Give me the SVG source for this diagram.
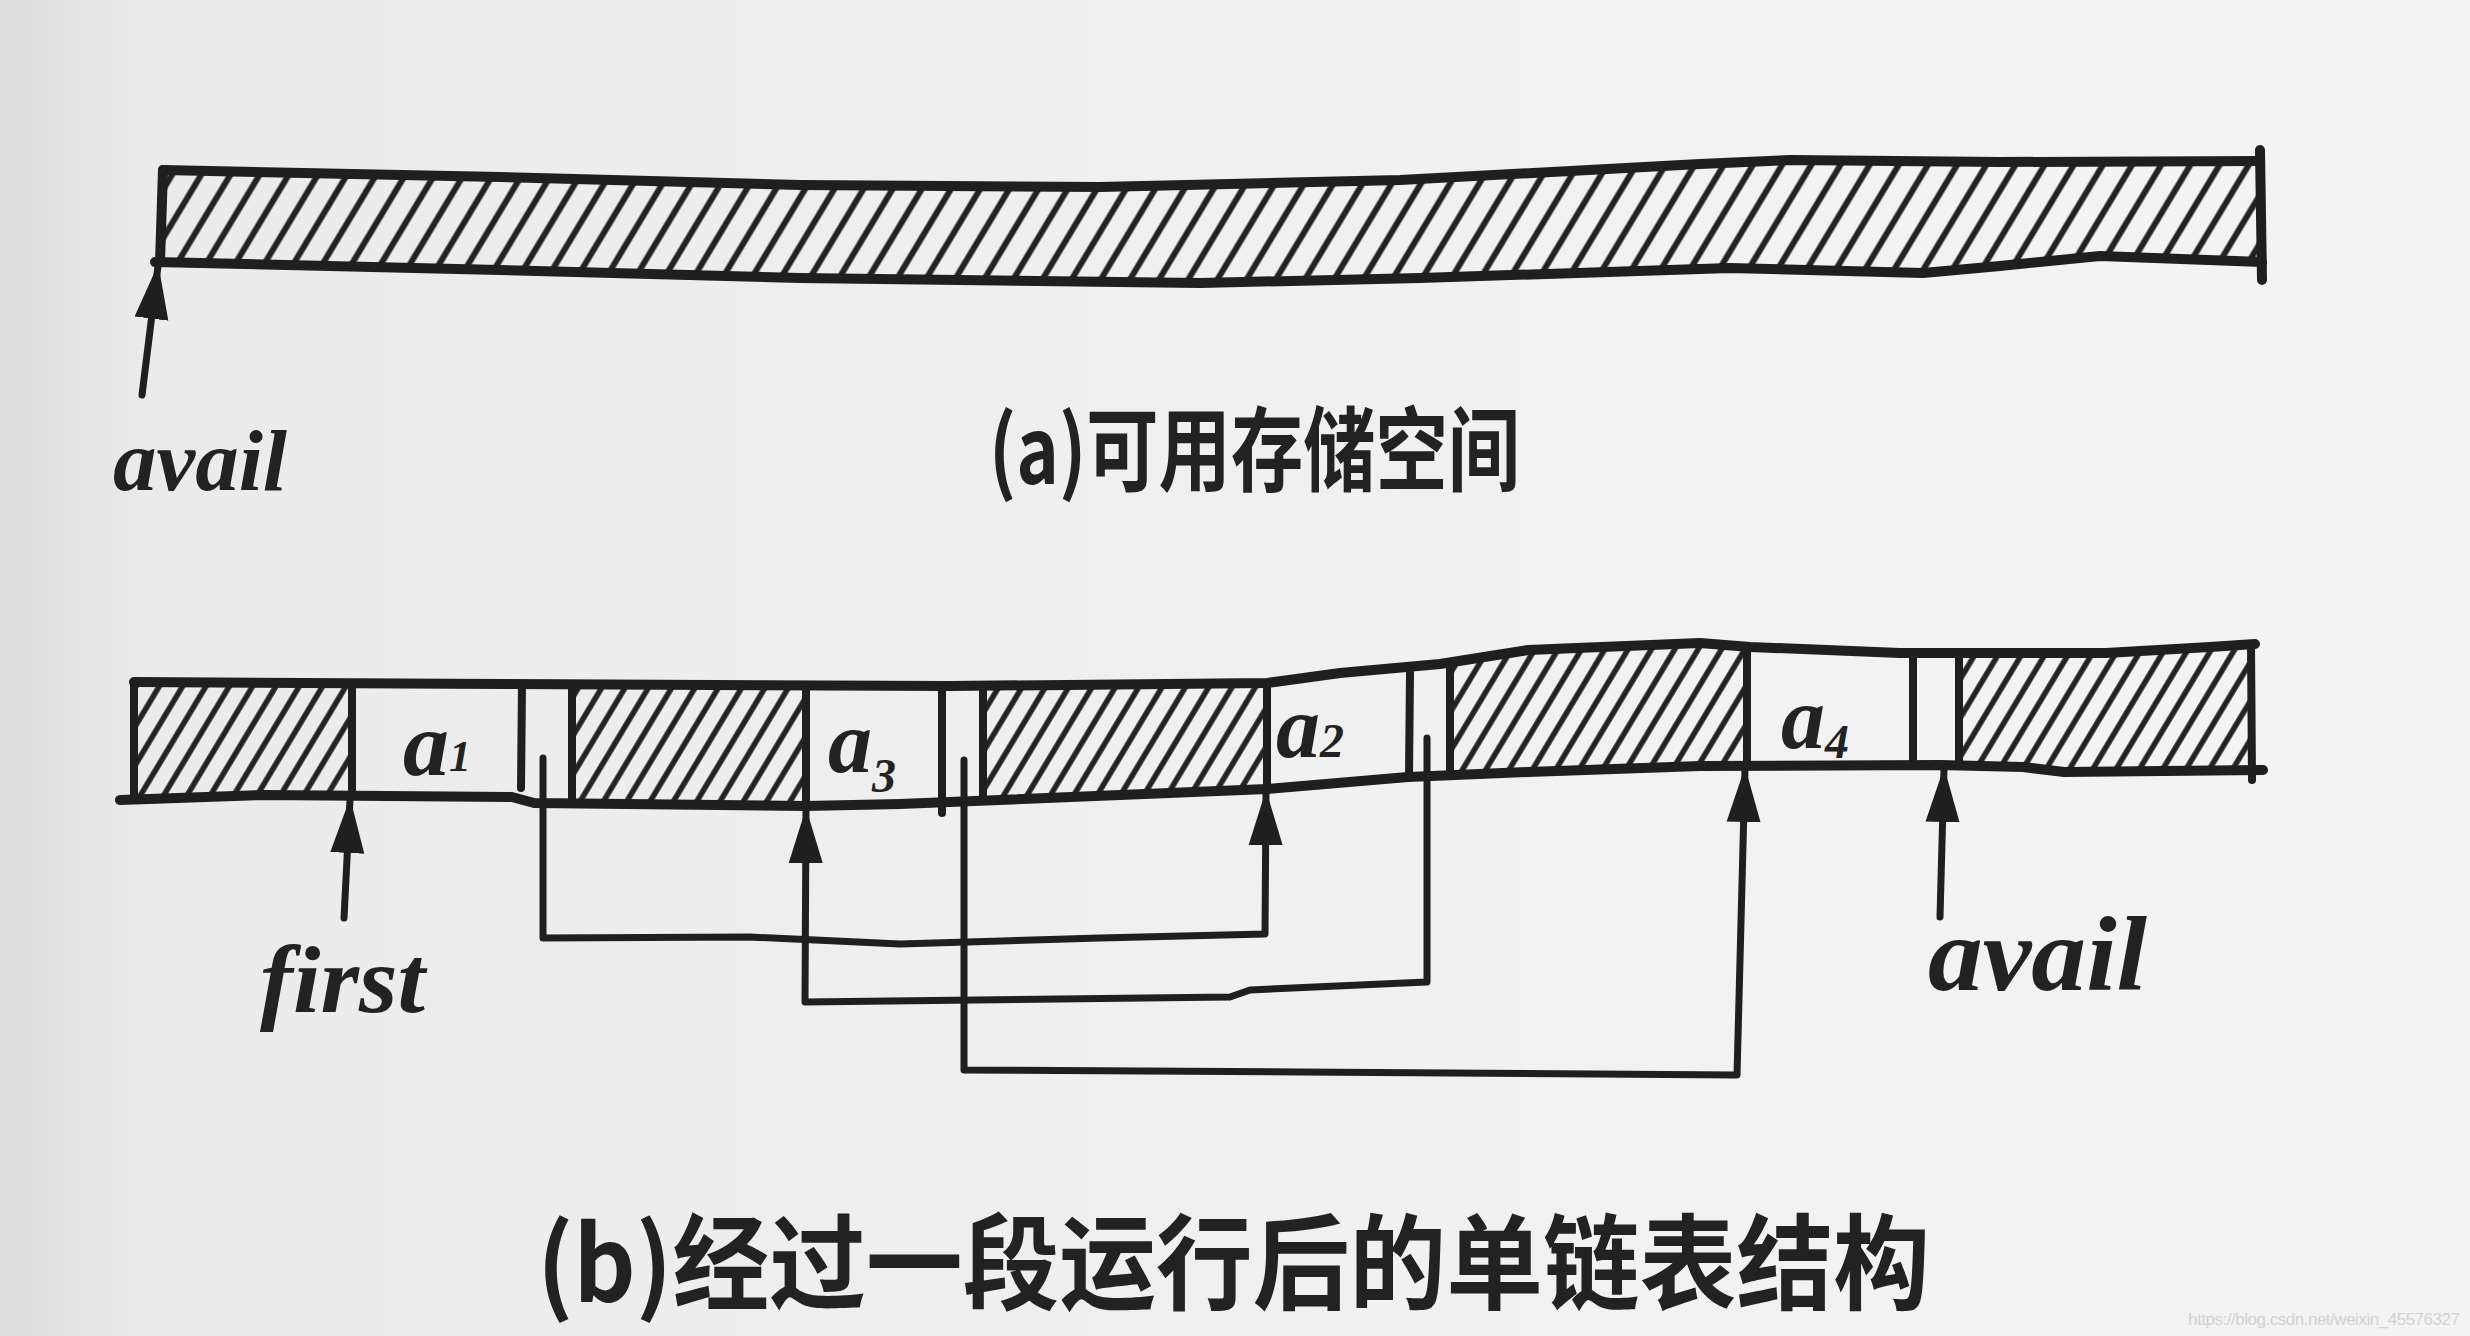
<svg xmlns="http://www.w3.org/2000/svg" width="2470" height="1336" viewBox="0 0 2470 1336">
<defs>
<style>
.ink{fill:none;stroke:#1f1f1f;stroke-width:10;stroke-linecap:round;stroke-linejoin:round}
.div{fill:none;stroke:#1f1f1f;stroke-width:8;stroke-linecap:round}
.con{fill:none;stroke:#1f1f1f;stroke-width:7;stroke-linecap:round;stroke-linejoin:round}
.lbl{font-family:"Liberation Serif",serif;font-style:italic;font-weight:bold;fill:#222}
.cap{font-family:"Noto Sans CJK SC","Noto Sans CJK JP",sans-serif;font-weight:bold;fill:#222}
</style>
<linearGradient id="paper" x1="0" y1="0" x2="1" y2="0">
<stop offset="0" stop-color="#dcdcdc"/>
<stop offset="0.06" stop-color="#ebebeb"/>
<stop offset="0.5" stop-color="#f0f0f0"/>
<stop offset="1" stop-color="#f4f4f4"/>
</linearGradient>
<pattern id="hatchTop" patternUnits="userSpaceOnUse" width="25" height="20" patternTransform="rotate(31)">
<line x1="12.5" y1="-5" x2="12.5" y2="25" stroke="#222" stroke-width="6"/>
</pattern>
<pattern id="hatchBot" patternUnits="userSpaceOnUse" width="20" height="20" patternTransform="rotate(31)">
<line x1="10" y1="-5" x2="10" y2="25" stroke="#222" stroke-width="5.5"/>
</pattern>
<marker id="ah" viewBox="0 0 55 38" refX="53" refY="19" markerWidth="55" markerHeight="38" markerUnits="userSpaceOnUse" orient="auto">
<path d="M0,2 L55,19 L0,36 Z" fill="#1f1f1f"/>
</marker>
</defs>
<rect x="0" y="0" width="2470" height="1336" fill="url(#paper)"/>

<g id="bar-a">
<polygon points="163,170 500,177 800,185 1100,187 1400,180 1700,164 1790,160 2000,162 2260,161 2262,262 2100,256 2000,266 1923,273 1730,268 1420,278 1200,283 800,278 500,270 160,262" fill="url(#hatchTop)" stroke="none"/>
<polyline class="ink" points="163,170 500,177 800,185 1100,187 1400,180 1700,164 1790,160 2000,162 2260,161"/>
<polyline class="ink" points="155,262 500,270 800,278 1200,283 1420,278 1730,268 1923,273 2000,266 2100,256 2262,262"/>
<line class="ink" x1="163" y1="170" x2="160" y2="262"/>
<line class="ink" x1="2260" y1="150" x2="2262" y2="280"/>
</g>

<g id="bar-b">
<g id="free1"><polygon points="134,682 352,683 352,796 263,795 134,799" fill="url(#hatchBot)"/></g>
<g id="cell-a1"><text class="lbl" x="403" y="775" font-size="92">a<tspan font-size="44" dy="-4">1</tspan></text></g>
<g id="free2"><polygon points="572,684 806,685 806,806 572,803" fill="url(#hatchBot)"/></g>
<g id="cell-a3"><text class="lbl" x="828" y="772" font-size="88">a<tspan font-size="48" dy="20">3</tspan></text></g>
<g id="free3"><polygon points="983,686 1267,683 1267,789 983,801" fill="url(#hatchBot)"/></g>
<g id="cell-a2"><text class="lbl" x="1276" y="757" font-size="88">a<tspan font-size="48" dy="0">2</tspan></text></g>
<g id="free4"><polygon points="1450,662 1528,650 1700,643 1747,647 1747,766 1700,766 1528,772 1450,775" fill="url(#hatchBot)"/></g>
<g id="cell-a4"><text class="lbl" x="1781" y="748" font-size="88">a<tspan font-size="48" dy="10">4</tspan></text></g>
<g id="free5"><polygon points="1959,653 2106,653 2210,647 2251,644 2251,770 2064,772 2023,767 1959,765" fill="url(#hatchBot)"/></g>
<polyline class="ink" points="134,682 500,684 950,686 1267,683 1340,673 1440,664 1528,650 1700,643 1750,647 1900,653 2106,653 2210,647 2255,644"/>
<polyline class="ink" points="120,800 263,795 512,797 534,803 805,806 900,804 1267,789 1408,777 1528,772 1700,766 1940,765 2023,767 2064,772 2263,770"/>
<line class="div" x1="134" y1="682" x2="134" y2="799"/>
<line class="div" x1="352" y1="683" x2="352" y2="796"/>
<line class="div" x1="522" y1="684" x2="521" y2="788"/>
<line class="div" x1="572" y1="684" x2="572" y2="803"/>
<line class="div" x1="806" y1="685" x2="806" y2="806"/>
<line class="div" x1="942" y1="686" x2="942" y2="813"/>
<line class="div" x1="983" y1="686" x2="983" y2="801"/>
<line class="div" x1="1267" y1="683" x2="1267" y2="789"/>
<line class="div" x1="1410" y1="673" x2="1409" y2="777"/>
<line class="div" x1="1450" y1="662" x2="1450" y2="775"/>
<line class="div" x1="1747" y1="647" x2="1747" y2="766"/>
<line class="div" x1="1913" y1="653" x2="1913" y2="765"/>
<line class="div" x1="1959" y1="653" x2="1959" y2="765"/>
<line class="div" x1="2251" y1="644" x2="2252" y2="780"/>
</g>

<g id="connectors">
<path class="con" d="M142,395 L158,266" marker-end="url(#ah)"/>
<path class="con" d="M344,918 L350,800" marker-end="url(#ah)"/>
<path class="con" d="M543,758 L543,938 L750,937 L900,944 L1100,938 L1265,934 L1266,792" marker-end="url(#ah)"/>
<path class="con" d="M1427,738 L1427,982 L1250,990 L1230,997 L805,1002 L806,810" marker-end="url(#ah)"/>
<path class="con" d="M964,760 L964,1070 L1300,1072 L1737,1075 L1745,769" marker-end="url(#ah)"/>
<path class="con" d="M1940,917 L1944,769" marker-end="url(#ah)"/>
</g>

<g id="label-avail-a"><text class="lbl" x="113" y="490" font-size="87" textLength="174" lengthAdjust="spacingAndGlyphs">avail</text></g>
<g id="label-first"><text class="lbl" x="260" y="1012" font-size="95" textLength="165" lengthAdjust="spacingAndGlyphs">first</text></g>
<g id="label-avail-b"><text class="lbl" x="1928" y="990" font-size="105" textLength="219" lengthAdjust="spacingAndGlyphs">avail</text></g>
<g id="caption-a"><text class="cap" x="989" y="484" font-size="92" textLength="531" lengthAdjust="spacingAndGlyphs">(a)可用存储空间</text></g>
<g id="caption-b"><text class="cap" x="537" y="1302" font-size="104" textLength="1393" lengthAdjust="spacingAndGlyphs">(b)经过一段运行后的单链表结构</text></g>
<text x="2188" y="1325" font-family="Liberation Sans, sans-serif" font-size="17" fill="#d2d2d2" textLength="272">https://blog.csdn.net/weixin_45576327</text>
</svg>
